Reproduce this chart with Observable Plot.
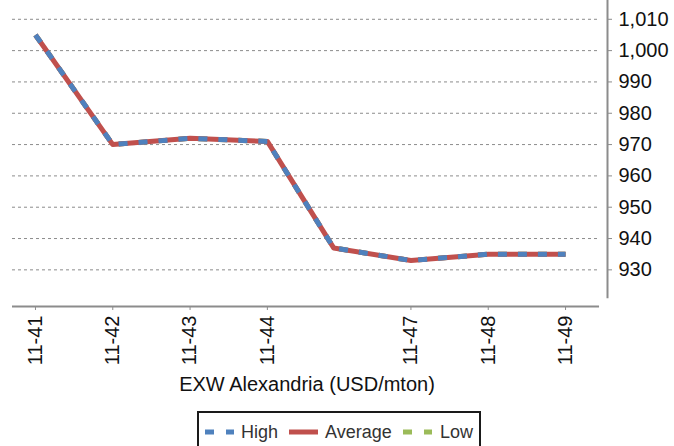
<!DOCTYPE html>
<html>
<head>
<meta charset="utf-8">
<script src="https://cdn.jsdelivr.net/npm/d3@7"></script>
<script src="https://cdn.jsdelivr.net/npm/@observablehq/plot@0.6"></script>
<style>
  body { margin: 0; background: #fff; font-family: "Liberation Sans", Arial, sans-serif; }
  #wrap { width: 674px; height: 446px; overflow: hidden; position: relative; }
  #xtitle { position: absolute; left: 0; width: 614px; top: 372px; text-align: center; font-size: 20px; line-height: 24px; color: #111; }
  #legend { position: absolute; left: 197px; top: 411px; width: 280px; height: 40px; border: 2px solid #1a1a1a; box-sizing: content-box; }
  .item { position: absolute; top: 8px; font-size: 18px; line-height: 22px; color: #333; }
  .sw { position: absolute; top: 16px; }
</style>
</head>
<body>
<div id="wrap">
  <div id="chart"></div>
  <div id="xtitle">EXW Alexandria (USD/mton)</div>
  <div id="legend"></div>
</div>
<script>
// ---- data ----
const weekLabels = ["11-41", "11-42", "11-43", "11-44", "", "11-47", "11-48", "11-49"];
const dayOffsets = [0, 7, 14, 21, 27, 34, 41, 48];
const high    = [1005, 970, 972, 971, 937, 933, 935, 935];
const average = [1005, 970, 972, 971, 937, 933, 935, 935];
const low     = [1005, 970, 972, 971, 937, 933, 935, 935];
const yTicks = [930, 940, 950, 960, 970, 980, 990, 1000, 1010];
const seriesNames = ["High", "Average", "Low"];
const seriesColors = ["#4F81BD", "#C0504D", "#9BBB59"];

// ---- scale extents ----
const xLo = -2.08, xHi = 51.8, xAxisEnd = 51.08;
const yLo = 918.3, yHi = 1016.0, yAxisBottom = 920.8;

const data = dayOffsets.map((d, i) => ({day: d, label: weekLabels[i], high: high[i], average: average[i], low: low[i]}));
const labelByDay = new Map(data.map(d => [d.day, d.label]));
const tickDays = data.filter(d => d.label !== "").map(d => d.day);

const axisGray = "#8c8c8c";
const lineStyle = {strokeWidth: 5, strokeLinejoin: "round", strokeLinecap: "butt"};

const chart = Plot.plot({
  width: 674,
  height: 370,
  marginLeft: 12,
  marginRight: 67,
  marginTop: 0,
  marginBottom: 64,
  style: {fontFamily: "'Liberation Sans', Arial, sans-serif", background: "#fff"},
  x: {domain: [xLo, xHi]},
  y: {domain: [yLo, yHi]},
  marks: [
    Plot.ruleY(yTicks, {x1: xLo, x2: xAxisEnd, stroke: axisGray, strokeWidth: 1, strokeDasharray: "3,3"}),
    Plot.ruleY([yLo], {x1: xLo, x2: xAxisEnd, stroke: axisGray, strokeWidth: 2}),
    Plot.ruleX([xHi], {y1: yAxisBottom, y2: yHi, stroke: axisGray, strokeWidth: 2}),
    Plot.axisY({anchor: "right", ticks: yTicks, tickSize: 4, tickPadding: 7, tickFormat: d3.format(","), fontSize: 20, label: null, stroke: axisGray, fill: "#111"}),
    Plot.axisX({ticks: tickDays, tickFormat: d => labelByDay.get(d), tickRotate: -90, tickSize: 4, tickPadding: 5, fontSize: 20, label: null, stroke: axisGray, fill: "#111"}),
    Plot.line(data, {x: "day", y: "low", stroke: seriesColors[2], strokeDasharray: "9,11", ...lineStyle}),
    Plot.line(data, {x: "day", y: "average", stroke: seriesColors[1], ...lineStyle}),
    Plot.line(data, {x: "day", y: "high", stroke: seriesColors[0], strokeDasharray: "9,11", ...lineStyle})
  ]
});
document.getElementById("chart").appendChild(chart);

// ---- legend ----
const legend = document.getElementById("legend");
const legendItems = [
  {name: seriesNames[0], color: seriesColors[0], dash: "9,12", swX: 6, txtX: 42},
  {name: seriesNames[1], color: seriesColors[1], dash: null, swX: 90, txtX: 126},
  {name: seriesNames[2], color: seriesColors[2], dash: "9,12", swX: 204, txtX: 241}
];
legendItems.forEach(it => {
  const sw = document.createElementNS("http://www.w3.org/2000/svg", "svg");
  sw.setAttribute("width", 30); sw.setAttribute("height", 6);
  sw.setAttribute("class", "sw");
  sw.style.left = it.swX + "px";
  const ln = document.createElementNS("http://www.w3.org/2000/svg", "line");
  ln.setAttribute("x1", 0); ln.setAttribute("x2", 29); ln.setAttribute("y1", 3); ln.setAttribute("y2", 3);
  ln.setAttribute("stroke", it.color); ln.setAttribute("stroke-width", 5);
  if (it.dash) ln.setAttribute("stroke-dasharray", it.dash);
  sw.appendChild(ln);
  legend.appendChild(sw);
  const t = document.createElement("div");
  t.className = "item";
  t.style.left = it.txtX + "px";
  t.textContent = it.name;
  legend.appendChild(t);
});
</script>
</body>
</html>
